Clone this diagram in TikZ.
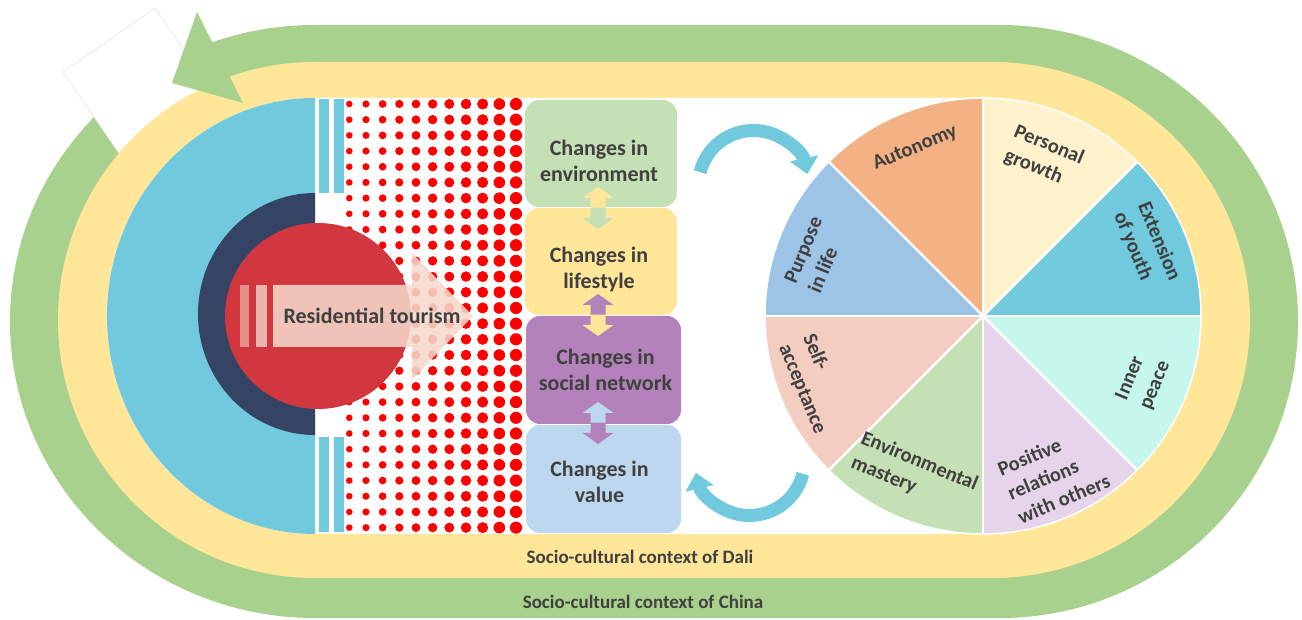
\documentclass[tikz,border=0pt]{standalone}
\usepackage{fontspec}
\setmainfont{Carlito}
\usetikzlibrary{arrows.meta,calc}

\definecolor{ringgreen}{HTML}{A9D18E}
\definecolor{ringyellow}{HTML}{FFE699}
\definecolor{skyblue}{HTML}{70C9DC}
\definecolor{navyblue}{HTML}{354465}
\definecolor{tourred}{HTML}{D2373F}
\definecolor{dotred}{HTML}{FF0000}
\definecolor{arrowpink}{HTML}{F5D8CB}
\definecolor{boxgreen}{HTML}{C5E0B4}
\definecolor{boxyellow}{HTML}{FFE699}
\definecolor{boxpurple}{HTML}{B482BA}
\definecolor{boxblue}{HTML}{BDD7EE}
\definecolor{txt}{HTML}{404040}
\definecolor{secauto}{HTML}{F4B183}
\definecolor{secgrowth}{HTML}{FFF2CC}
\definecolor{secyouth}{HTML}{70C9DC}
\definecolor{secpeace}{HTML}{C6F7EC}
\definecolor{secrel}{HTML}{E6D5EA}
\definecolor{secmast}{HTML}{C5E0B4}
\definecolor{secself}{HTML}{F2CDC0}
\definecolor{secpurp}{HTML}{9DC3E6}

% two-coloured up/down arrow between stacked boxes
\newcommand\twinarrow[3]{%
  \fill[#2] ($(#1)+(-7.5,0)$) -- ++(0,10) -- ++(-8,0) -- ++(15.5,11) -- ++(15.5,-11) -- ++(-8,0) -- ++(0,-10) -- cycle;
  \fill[#3] ($(#1)+(-7.5,0.3)$) -- ++(0,-10.3) -- ++(-8,0) -- ++(15.5,-11) -- ++(15.5,11) -- ++(-8,0) -- ++(0,10.3) -- cycle;
}

\tikzset{
  lbl/.style={font=\fontsize{21}{26}\selectfont\bfseries, text=txt, inner sep=0pt},
  boxtxt/.style={lbl, font=\fontsize{22}{26}\selectfont\bfseries, align=center},
  wlbl/.style={lbl, font=\fontsize{20.5}{26}\selectfont\bfseries, align=left},
  ctxlbl/.style={lbl, font=\fontsize{19}{24}\selectfont\bfseries},
  chbox/.style={rounded corners=14pt, minimum width=152pt, minimum height=107pt, inner sep=0pt},
  cyanarrow/.style={skyblue, line width=13pt, -{Triangle[width=28pt,length=16pt]}},
}

\begin{document}
\begin{tikzpicture}[x=1pt,y=1pt]
\useasboundingbox (0,0) rectangle (1302,620);

% national context ring
\fill[ringgreen] (315,595) -- (1000,595) arc[start angle=90,end angle=-90,x radius=298,y radius=296.5]
  -- (315,2) arc[start angle=270,end angle=90,x radius=305,y radius=296.5] -- cycle;
% gap behind the ring's arrowhead
\filldraw[fill=white, draw=gray!25, line width=0.5pt] (63,548) -- (155,612) -- (212,529) -- (120,465) -- cycle;
% local context ring
\fill[ringyellow] (315,558) -- (992,558) arc[start angle=90,end angle=-90,radius=258]
  -- (315,42) arc[start angle=270,end angle=90,x radius=257,y radius=258] -- cycle;
% inner field
\fill[white] (315,522) -- (983,522) arc[start angle=90,end angle=-90,radius=218]
  -- (315,86) arc[start angle=270,end angle=90,x radius=208,y radius=218] -- cycle;
\fill[skyblue] (315,522) arc[start angle=90,end angle=270,x radius=208,y radius=218] -- cycle;
% arrowhead of the outer ring
\fill[ringgreen] (197,608) -- (172,537) -- (243,517) -- cycle;

% stripes beside the half disc
\fill[skyblue] (319,427) rectangle (329,521);
\fill[skyblue] (334,427) rectangle (344,521);
\fill[skyblue] (319,88) rectangle (329,183);
\fill[skyblue] (334,88) rectangle (344,183);

% dark half disc
\fill[navyblue] (315,427) arc[start angle=90,end angle=270,x radius=117,y radius=121] -- cycle;

% dot field, dots growing to the right
\foreach \i in {0,...,10}
  \foreach \j in {0,...,27}
    \fill[dotred] ({349.3+16.67*\i},{516-15.69*\j}) circle[radius={3.3+0.28*\i}];

% red core
\fill[tourred] (318,304) circle[radius=93];

% striped arrow
\fill[arrowpink, opacity=0.55] (240,273) rectangle (249,335);
\fill[arrowpink, opacity=0.78] (256,273) rectangle (267,335);
\fill[arrowpink, opacity=0.87] (273,273) -- (412,273) -- (412,240) -- (473,304) -- (412,367) -- (412,335) -- (273,335) -- cycle;
\node[lbl, font=\fontsize{22}{26}\selectfont\bfseries] (tour) at (372,304) {Residential tourism};

% change boxes
\node[chbox, fill=boxgreen] (b1) at (601,466.5) {};
\node[chbox, fill=boxyellow] (b2) at (601,358.5) {};
\node[chbox, fill=boxpurple, minimum width=155pt, minimum height=108pt] (b3) at (603.5,250) {};
\node[chbox, fill=boxblue, minimum width=155pt, minimum height=108pt] (b4) at (603.5,141) {};
\node[boxtxt] (t1) at ($(b1)+(-2,-7)$) {Changes in\\environment};
\node[boxtxt] (t2) at ($(b2)+(-2,-8)$) {Changes in\\lifestyle};
\node[boxtxt] (t3) at ($(b3)+(2,0)$) {Changes in\\social network};
\node[boxtxt] (t4) at ($(b4)+(-4,-3)$) {Changes in\\value};

\coordinate (m12) at (598,412);
\coordinate (m23) at (598,305);
\coordinate (m34) at (598,197);
\twinarrow{m12}{boxyellow}{boxgreen}
\twinarrow{m23}{boxpurple}{boxyellow}
\twinarrow{m34}{boxblue}{boxpurple}

% feedback arrows
\coordinate (ta) at (753.5,434.5);
\coordinate (ba) at (749.5,159.5);
\draw[cyanarrow] ($(ta)+(166:55)$) arc[start angle=166,end angle=12,radius=55];
\draw[cyanarrow] ($(ba)+(-14:55)$) arc[start angle=-14,end angle=-167,radius=55];

% well-being wheel
\coordinate (wc) at (983,304);
\foreach \a/\c in {0/secyouth,45/secgrowth,90/secauto,135/secpurp,180/secself,225/secmast,270/secrel,315/secpeace}
  \fill[\c] (wc) -- ++(\a:218) arc[start angle=\a,end angle=\a+45,radius=218] -- cycle;
\foreach \a in {0,45,...,315}
  \draw[white, line width=2.5pt] (wc) -- ++(\a:218);
\draw[white, line width=1.5pt] (wc) circle[radius=218];

\node[wlbl, rotate=22.5] (auto) at ($(wc)+(112:181)$) {Autonomy};
\node[wlbl, rotate=-22.5] (grow) at ($(wc)+(69:170)$) {Personal\\growth};
\node[wlbl, rotate=-67.5] (youth) at ($(wc)+(23:178)$) {Extension\\of youth};
\node[wlbl, rotate=67.5] (peace) at ($(wc)+(-22:173)$) {Inner\\peace};
\node[wlbl, rotate=22.5] (rel) at ($(wc)+(-66:174)$) {Positive\\relations\\with others};
\node[wlbl, rotate=-22.5] (mast) at ($(wc)+(-113.5:172)$) {Environmental\\mastery};
\node[wlbl, rotate=-67.5] (self) at ($(wc)+(-158:182)$) {Self-\\acceptance};
\node[wlbl, rotate=67.5] (purp) at ($(wc)+(160:178.5)$) {Purpose\\in life};

% context captions
\node[ctxlbl] (dali) at (640,63) {Socio-cultural context of Dali};
\node[ctxlbl] (china) at (643,18) {Socio-cultural context of China};
\end{tikzpicture}
\end{document}
